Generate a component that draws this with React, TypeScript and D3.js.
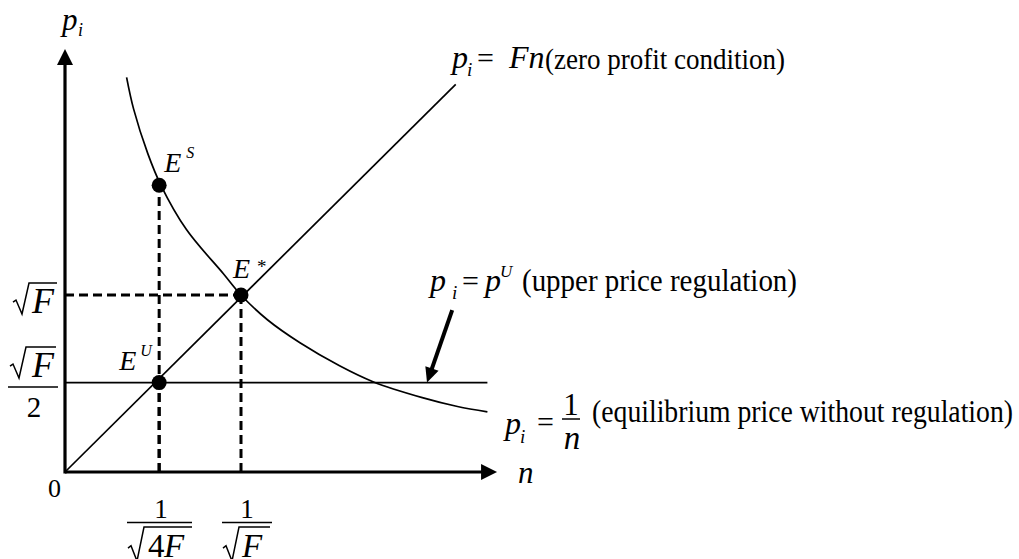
import React from "react";
import * as d3 from "d3";

// units chosen so that sqrt(F) = 1
const curveN = [0.35, 0.39, 0.47, 0.545, 0.69, 0.9, 1.0, 1.15, 1.335, 1.56, 1.75, 2.03, 2.23, 2.4];
const curveP = [2.23, 2.05, 1.8, 1.62, 1.37, 1.12, 1.0, 0.86, 0.73, 0.6, 0.51, 0.42, 0.37, 0.34];
const zeroProfitN = [0, 2.22];
const zeroProfitP = [0, 2.19];
const regulationN = [0, 2.4];
const regulationP = [0.505, 0.505];
const pointLabels = ["S", "*", "U"];
const pointN = [0.535, 1, 0.535];
const pointP = [1.62, 1, 0.505];
const nMax = 2.455;
const pMax = 2.39;
const pointerFrom = [2.2, 0.915];
const pointerTo = [2.057, 0.505];

const W = 1019;
const H = 559;
const serif = "'Liberation Serif', 'Times New Roman', serif";

const x = d3.scaleLinear().domain([0, 1]).range([65, 241]);
const y = d3.scaleLinear().domain([0, 1]).range([472, 295]);

// label offsets from each dot: [E dx, E dy, sup dx, sup dy]
const labelOffsets = [
  [5, -13, 27, -27],
  [-8, -17, 16, -26],
  [-40, -13, -19, -27],
];

function radical(x0: number, top: number, bottom: number, right: number) {
  const h = bottom - top;
  return `M${x0},${top + 0.62 * h} L${x0 + 3},${top + 0.55 * h} L${x0 + 9},${bottom} L${x0 + 16},${top} L${right},${top}`;
}

export default function App() {
  const line = d3
    .line<number>()
    .x((_, i) => x(curveN[i]))
    .y((_, i) => y(curveP[i]))
    .curve(d3.curveCatmullRom.alpha(0.5));

  const x0 = x(0);
  const y0 = y(0);
  const xEnd = x(nMax);
  const yEnd = y(pMax);

  // pointer arrow geometry
  const fx = x(pointerFrom[0]);
  const fy = y(pointerFrom[1]);
  const tx = x(pointerTo[0]);
  const ty = y(pointerTo[1]);
  const len = Math.hypot(tx - fx, ty - fy);
  const ux = (tx - fx) / len;
  const uy = (ty - fy) / len;
  const headLen = 15;
  const headHalf = 7;
  const bx = tx - ux * headLen;
  const by = ty - uy * headLen;
  const head = `M${tx},${ty} L${bx - uy * headHalf},${by + ux * headHalf} L${bx + uy * headHalf},${by - ux * headHalf} Z`;

  const italic = { fontStyle: "italic" as const };

  return (
    <svg
      width={W}
      height={H}
      style={{ position: "absolute", left: 0, top: 0, background: "#fff", fontFamily: serif }}
      fill="#000"
    >
      {/* dashed guides */}
      <g stroke="#000" strokeWidth={3} strokeDasharray="9,5" fill="none">
        {pointN.map((n, i) => (
          <line key={"v" + i} x1={x(n)} x2={x(n)} y1={y0} y2={y(pointP[i])} />
        ))}
        <line x1={x0} x2={x(pointN[1])} y1={y(pointP[1])} y2={y(pointP[1])} />
      </g>

      {/* curves */}
      <path d={line(curveN) || ""} fill="none" stroke="#000" strokeWidth={1.7} />
      <line
        x1={x(zeroProfitN[0])}
        y1={y(zeroProfitP[0])}
        x2={x(zeroProfitN[1])}
        y2={y(zeroProfitP[1])}
        stroke="#000"
        strokeWidth={1.7}
      />
      <line
        x1={x(regulationN[0])}
        y1={y(regulationP[0])}
        x2={x(regulationN[1])}
        y2={y(regulationP[1])}
        stroke="#000"
        strokeWidth={1.7}
      />

      {/* axes */}
      <line x1={x0} y1={y0} x2={xEnd - 14} y2={y0} stroke="#000" strokeWidth={3.2} />
      <line x1={x0} y1={y0 + 1.5} x2={x0} y2={yEnd + 14} stroke="#000" strokeWidth={3.2} />
      <path d={`M${xEnd},${y0} L${xEnd - 16},${y0 - 8} L${xEnd - 16},${y0 + 8} Z`} />
      <path d={`M${x0},${yEnd} L${x0 - 8},${yEnd + 16} L${x0 + 8},${yEnd + 16} Z`} />

      {/* pointer arrow */}
      <line x1={fx} y1={fy} x2={bx + ux * 2} y2={by + uy * 2} stroke="#000" strokeWidth={4} />
      <path d={head} />

      {/* equilibrium points */}
      {pointN.map((n, i) => {
        const cx = x(n);
        const cy = y(pointP[i]);
        const o = labelOffsets[i];
        const star = pointLabels[i] === "*";
        return (
          <g key={"p" + i}>
            <circle cx={cx} cy={cy} r={7.5} />
            <text x={cx + o[0]} y={cy + o[1]} fontSize={28} {...italic}>E</text>
            <text x={cx + o[2]} y={cy + o[3] + (star ? 4 : 0)} fontSize={star ? 19 : 16} {...(star ? {} : italic)}>
              {pointLabels[i]}
            </text>
          </g>
        );
      })}

      {/* axis labels */}
      <text x={62} y={30} fontSize={31} {...italic}>p</text>
      <text x={78} y={36} fontSize={18} {...italic}>i</text>
      <text x={518} y={483} fontSize={31} {...italic}>n</text>
      <text x={48} y={497} fontSize={26}>0</text>

      {/* radicals and fraction bars */}
      <g fill="none" stroke="#000" strokeWidth={1.5}>
        <path d={radical(13, 283, 314, 57)} />
        <path d={radical(10, 347, 378, 56)} />
        <line x1={8} x2={58} y1={387} y2={387} />
        <path d={radical(128, 527, 561, 192)} />
        <line x1={127} x2={192} y1={522.5} y2={522.5} />
        <path d={radical(223, 527, 561, 270)} />
        <line x1={222} x2={272} y1={522.5} y2={522.5} />
        <line x1={562} x2={580} y1={419} y2={419} />
      </g>

      {/* y tick labels */}
      <text x={32} y={313} fontSize={36} {...italic}>F</text>
      <text x={32} y={377} fontSize={36} {...italic}>F</text>
      <text x={34} y={417} fontSize={29} textAnchor="middle">2</text>

      {/* x tick labels */}
      <text x={161} y={518} fontSize={27} textAnchor="middle">1</text>
      <text x={148} y={557} fontSize={33}>4</text>
      <text x={164} y={557} fontSize={33} {...italic}>F</text>
      <text x={247} y={518} fontSize={27} textAnchor="middle">1</text>
      <text x={242} y={557} fontSize={33} {...italic}>F</text>

      {/* zero profit label */}
      <text x={452} y={68} fontSize={32} {...italic}>p</text>
      <text x={467} y={76} fontSize={19} {...italic}>i</text>
      <text x={477} y={68} fontSize={30}>=</text>
      <text x={509} y={68} fontSize={32} {...italic}>Fn</text>
      <text x={545} y={69} fontSize={30} textLength={240} lengthAdjust="spacingAndGlyphs">
        (zero profit condition)
      </text>

      {/* upper price regulation label */}
      <text x={430} y={291} fontSize={32} {...italic}>p</text>
      <text x={452} y={299} fontSize={19} {...italic}>i</text>
      <text x={462} y={291} fontSize={30}>=</text>
      <text x={485} y={291} fontSize={32} {...italic}>p</text>
      <text x={500} y={277} fontSize={17} {...italic}>U</text>
      <text x={522} y={291} fontSize={31} textLength={275} lengthAdjust="spacingAndGlyphs">
        (upper price regulation)
      </text>

      {/* equilibrium price label */}
      <text x={505} y={434} fontSize={32} {...italic}>p</text>
      <text x={520} y={443} fontSize={19} {...italic}>i</text>
      <text x={537} y={432} fontSize={30}>=</text>
      <text x={571} y={415} fontSize={31} textAnchor="middle">1</text>
      <text x={572} y={449} fontSize={33} textAnchor="middle" {...italic}>n</text>
      <text x={592} y={422} fontSize={31} textLength={421} lengthAdjust="spacingAndGlyphs">
        (equilibrium price without regulation)
      </text>
    </svg>
  );
}
